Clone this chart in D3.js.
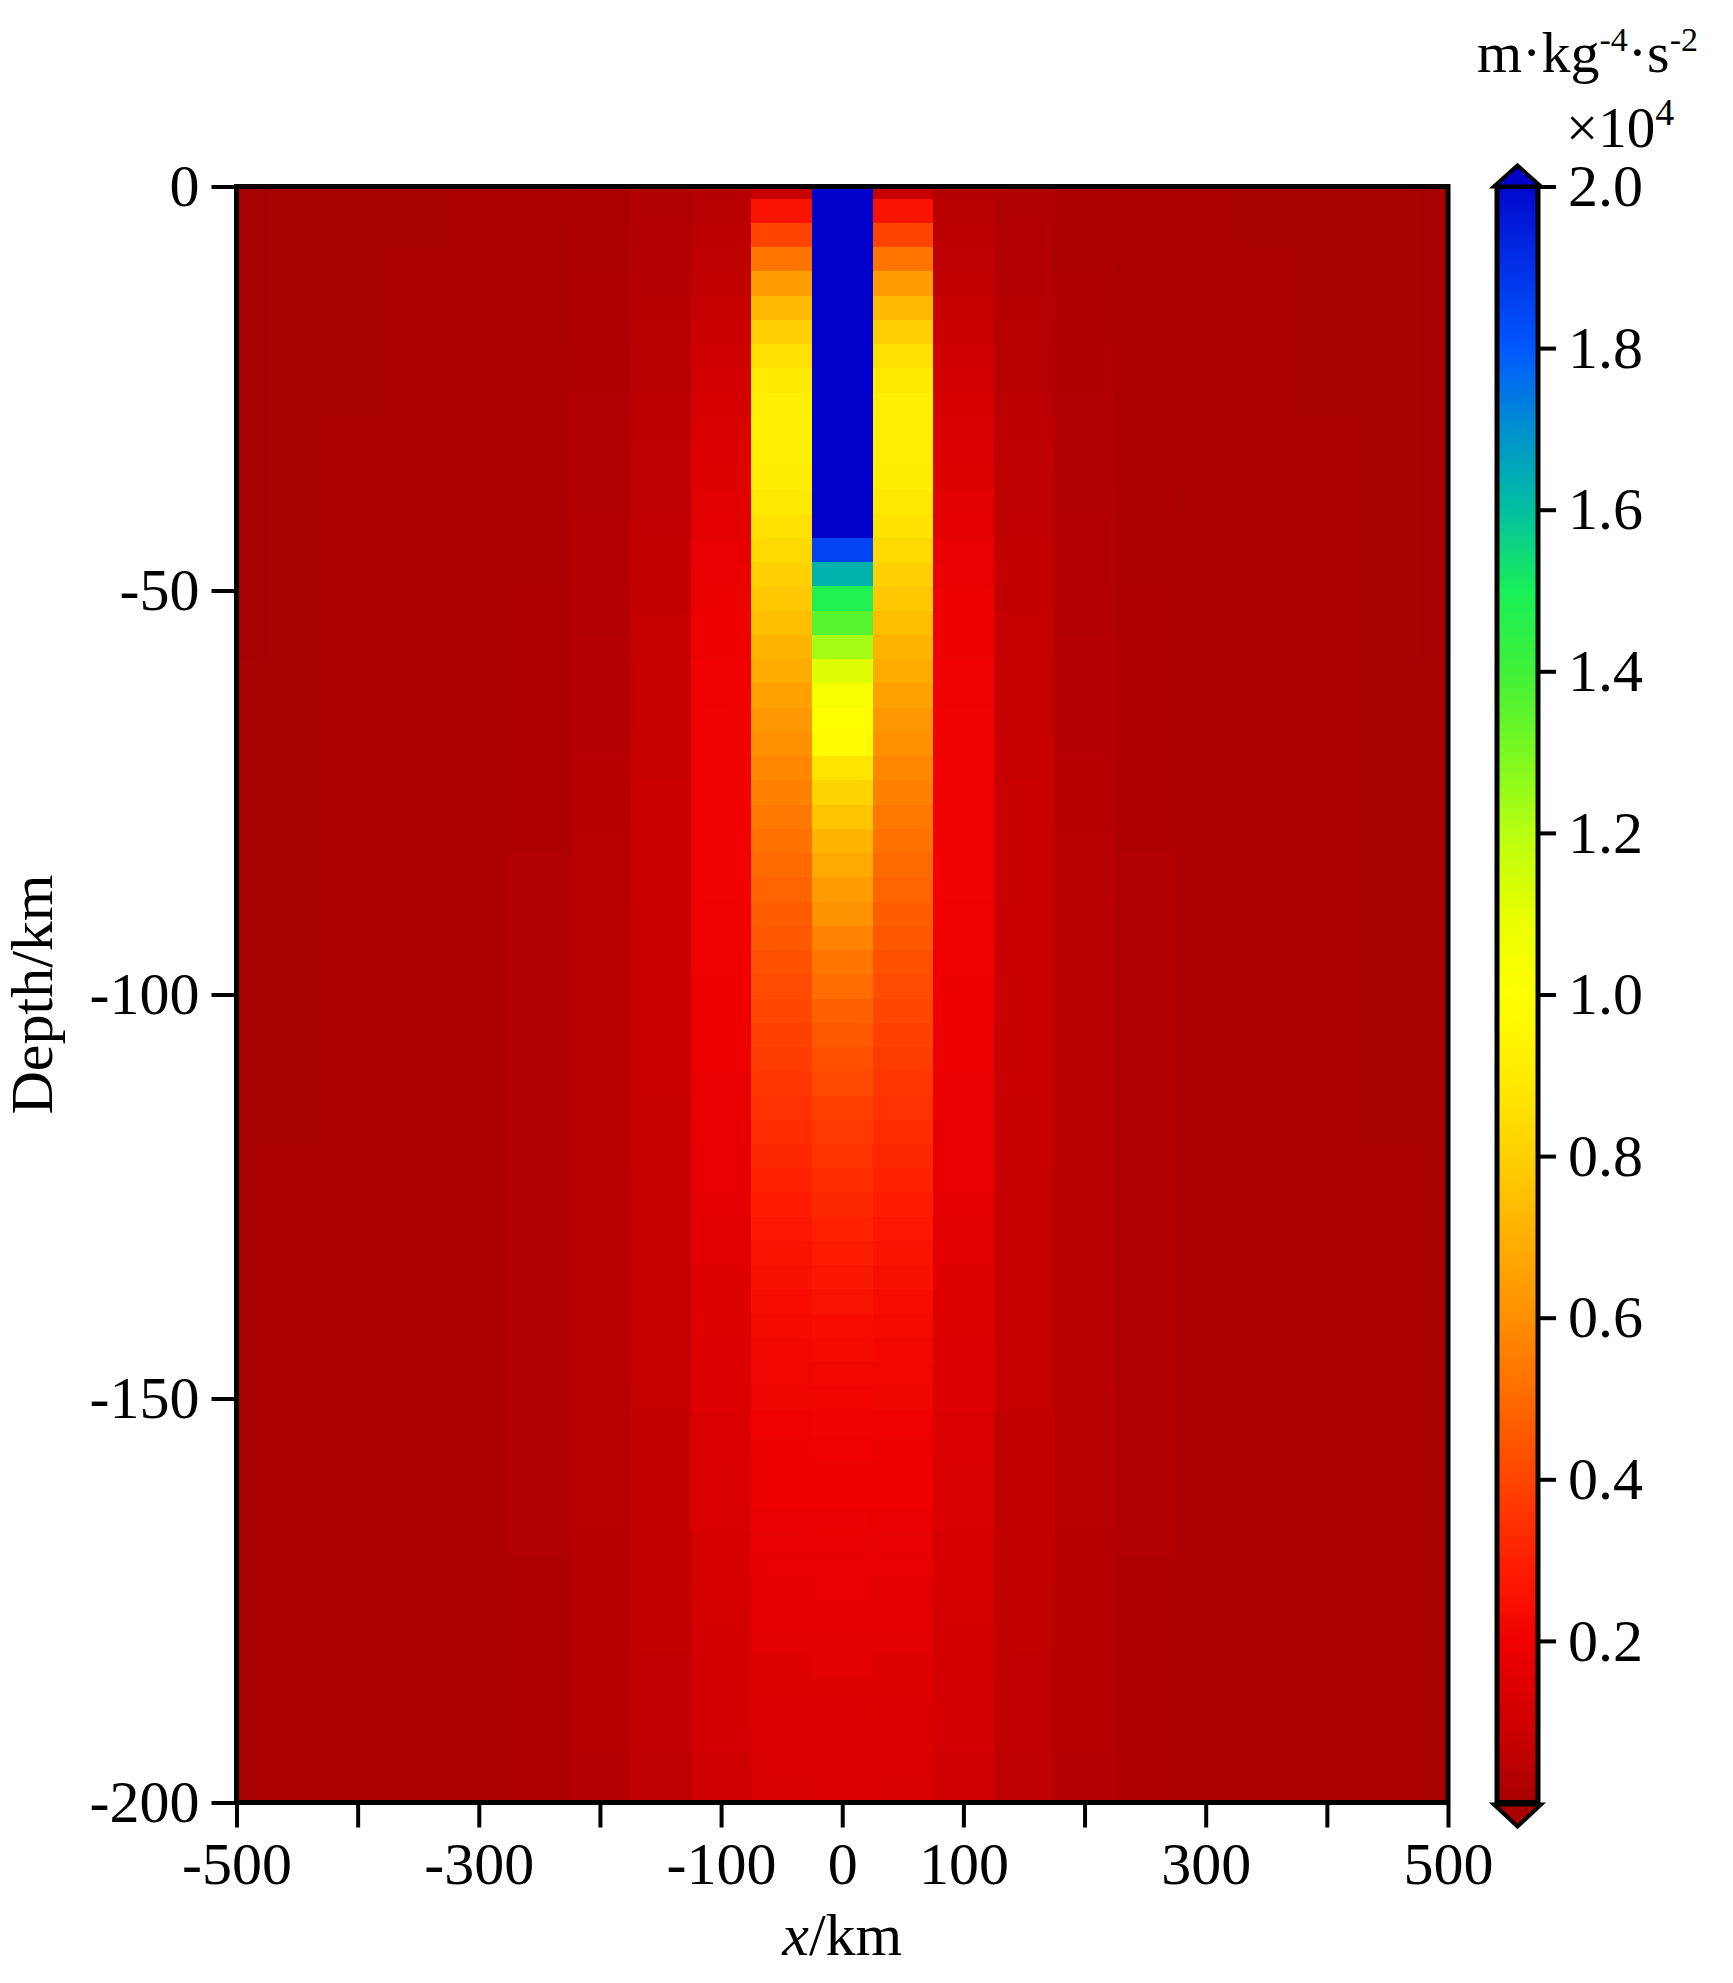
<!DOCTYPE html>
<html><head><meta charset="utf-8">
<script src="https://cdn.jsdelivr.net/npm/d3@7"></script>
<style>
html,body{margin:0;padding:0;background:#fff;}
svg{display:block;}
text{font-family:"Liberation Serif","Times New Roman",serif;fill:#000;}
</style></head><body>
<svg id="chart" width="1733" height="1983"></svg>
<script>
// ---------------- DATA ----------------
// depth of each grid row (km)
const depths = [0,-3,-6,-9,-12,-15,-18,-21,-24,-27,-30,-33,-36,-39,-42,-45,-48,-51,-54,-57,-60,-63,-66,-69,-72,-75,-78,-81,-84,-87,-90,-93,-96,-99,-102,-105,-108,-111,-114,-117,-120,-123,-126,-129,-132,-135,-138,-141,-144,-147,-150,-153,-156,-159,-162,-165,-168,-171,-174,-177,-180,-183,-186,-189,-192,-195,-198];
// grid columns (km); field is symmetric about x = 0
const xCenters = [-500,-450,-400,-350,-300,-250,-200,-150,-100,-50,0,50,100,150,200,250,300,350,400,450,500];
// values (x10^4) for |x| = 0, 50, 100 ... 500 km, one entry per depth row
const col0 = [2.6,2.6,2.55,2.5,2.45,2.4,2.35,2.3,2.3,2.25,
  2.2,2.15,2.1,2.07,2.03,1.85,1.63,1.48,1.36,1.23,
  1.12,1.02,1.0,0.98,0.87,0.815,0.765,0.715,0.675,0.64,
  0.605,0.565,0.535,0.505,0.475,0.455,0.43,0.41,0.39,0.37,
  0.355,0.335,0.32,0.30,0.285,0.27,0.255,0.24,0.23,0.22,
  0.21,0.205,0.2,0.195,0.19,0.185,0.18,0.175,0.17,0.165,
  0.16,0.155,0.15,0.145,0.14,0.135,0.13];
const col50 = [0.08,0.26,0.40,0.53,0.64,0.73,0.80,0.86,0.895,0.915,
  0.925,0.92,0.91,0.89,0.865,0.835,0.805,0.775,0.745,0.715,
  0.685,0.655,0.625,0.60,0.58,0.56,0.54,0.52,0.50,0.483,
  0.467,0.452,0.437,0.422,0.407,0.392,0.377,0.362,0.347,0.332,
  0.317,0.302,0.288,0.275,0.263,0.252,0.242,0.232,0.223,0.215,
  0.208,0.202,0.197,0.192,0.187,0.182,0.177,0.172,0.167,0.162,
  0.157,0.152,0.147,0.142,0.137,0.132,0.127];
const col100 = [0.03,0.04,0.048,0.055,0.063,0.072,0.085,0.097,0.108,0.118,
  0.128,0.138,0.148,0.158,0.167,0.176,0.183,0.189,0.194,0.198,
  0.201,0.203,0.205,0.206,0.207,0.207,0.207,0.206,0.205,0.204,
  0.203,0.202,0.2,0.198,0.195,0.192,0.188,0.184,0.18,0.176,
  0.172,0.168,0.164,0.16,0.156,0.152,0.149,0.146,0.143,0.14,
  0.137,0.134,0.131,0.128,0.126,0.124,0.122,0.12,0.118,0.116,
  0.114,0.112,0.11,0.108,0.106,0.104,0.102];
const col150 = [0.02,0.022,0.025,0.028,0.031,0.034,0.037,0.04,0.043,0.046,
  0.049,0.052,0.055,0.058,0.061,0.064,0.066,0.068,0.07,0.072,
  0.074,0.075,0.076,0.077,0.078,0.079,0.08,0.08,0.081,0.081,
  0.081,0.081,0.081,0.08,0.08,0.08,0.079,0.079,0.078,0.078,
  0.077,0.076,0.075,0.074,0.074,0.073,0.072,0.071,0.07,0.069,
  0.069,0.068,0.067,0.066,0.066,0.065,0.064,0.064,0.063,0.062,
  0.062,0.061,0.06,0.06,0.059,0.058,0.058];
const col200 = [0.01,0.011,0.012,0.013,0.014,0.015,0.016,0.017,0.018,0.019,
  0.02,0.021,0.022,0.023,0.024,0.025,0.026,0.027,0.028,0.029,
  0.03,0.031,0.032,0.033,0.034,0.035,0.036,0.037,0.038,0.038,
  0.039,0.039,0.04,0.04,0.04,0.041,0.041,0.041,0.041,0.041,
  0.041,0.041,0.041,0.04,0.04,0.04,0.04,0.039,0.039,0.039,
  0.038,0.038,0.038,0.037,0.037,0.037,0.036,0.036,0.036,0.035,
  0.035,0.035,0.034,0.034,0.034,0.033,0.033];
const col250 = [0.005,0.006,0.006,0.007,0.007,0.008,0.008,0.009,0.009,0.01,
  0.01,0.011,0.011,0.012,0.012,0.013,0.013,0.014,0.014,0.015,
  0.015,0.016,0.016,0.017,0.017,0.018,0.018,0.018,0.019,0.019,
  0.019,0.02,0.02,0.02,0.02,0.02,0.021,0.021,0.021,0.021,
  0.021,0.021,0.021,0.021,0.021,0.02,0.02,0.02,0.02,0.02,
  0.02,0.02,0.019,0.019,0.019,0.019,0.019,0.018,0.018,0.018,
  0.018,0.018,0.017,0.017,0.017,0.017,0.017];
const col300 = [0.004,0.004,0.005,0.005,0.005,0.006,0.006,0.006,0.007,0.007,
  0.007,0.008,0.008,0.008,0.009,0.009,0.009,0.01,0.01,0.01,
  0.01,0.011,0.011,0.011,0.011,0.012,0.012,0.012,0.012,0.012,
  0.013,0.013,0.013,0.013,0.013,0.013,0.013,0.013,0.013,0.013,
  0.013,0.013,0.013,0.013,0.013,0.013,0.013,0.013,0.013,0.013,
  0.013,0.013,0.012,0.012,0.012,0.012,0.012,0.012,0.012,0.012,
  0.012,0.012,0.012,0.011,0.011,0.011,0.011];
const col350 = [0.003,0.003,0.003,0.004,0.004,0.004,0.004,0.005,0.005,0.005,
  0.005,0.006,0.006,0.006,0.006,0.007,0.007,0.007,0.007,0.007,
  0.008,0.008,0.008,0.008,0.008,0.008,0.008,0.008,0.008,0.008,
  0.008,0.008,0.008,0.009,0.009,0.009,0.009,0.009,0.009,0.009,
  0.009,0.009,0.009,0.009,0.009,0.009,0.009,0.009,0.009,0.009,
  0.009,0.009,0.009,0.009,0.009,0.009,0.009,0.009,0.009,0.009,
  0.009,0.009,0.009,0.008,0.008,0.008,0.008];
const col400 = [0.002,0.002,0.002,0.002,0.003,0.003,0.003,0.003,0.003,0.003,
  0.004,0.004,0.004,0.004,0.004,0.004,0.004,0.004,0.004,0.004,
  0.004,0.004,0.005,0.005,0.005,0.005,0.005,0.005,0.005,0.005,
  0.005,0.005,0.005,0.005,0.005,0.005,0.005,0.005,0.005,0.005,
  0.006,0.006,0.006,0.006,0.006,0.006,0.006,0.006,0.006,0.006,
  0.006,0.006,0.006,0.006,0.006,0.006,0.006,0.006,0.006,0.006,
  0.006,0.006,0.006,0.006,0.006,0.006,0.006];
const col450 = [0.002,0.002,0.002,0.002,0.002,0.002,0.002,0.002,0.002,0.002,
  0.002,0.002,0.002,0.002,0.002,0.002,0.002,0.002,0.002,0.002,
  0.003,0.003,0.003,0.003,0.003,0.003,0.003,0.003,0.003,0.003,
  0.003,0.003,0.003,0.003,0.003,0.003,0.003,0.003,0.003,0.003,
  0.004,0.004,0.004,0.004,0.004,0.004,0.004,0.004,0.004,0.004,
  0.004,0.004,0.004,0.004,0.004,0.004,0.004,0.004,0.004,0.004,
  0.004,0.004,0.004,0.004,0.004,0.004,0.004];
const col500 = [0.001,0.001,0.001,0.001,0.001,0.001,0.001,0.001,0.001,0.001,
  0.001,0.001,0.001,0.001,0.001,0.001,0.001,0.001,0.001,0.001,
  0.002,0.002,0.002,0.002,0.002,0.002,0.002,0.002,0.002,0.002,
  0.002,0.002,0.002,0.002,0.002,0.002,0.002,0.002,0.002,0.002,
  0.003,0.003,0.003,0.003,0.003,0.003,0.003,0.003,0.003,0.003,
  0.003,0.003,0.003,0.003,0.003,0.003,0.003,0.003,0.003,0.003,
  0.003,0.003,0.003,0.003,0.003,0.003,0.003];
const columnsByAbsX = [col0,col50,col100,col150,col200,col250,col300,col350,col400,col450,col500];

const xTicks = [-500,-400,-300,-200,-100,0,100,200,300,400,500];
const xTickLabels = ["-500","-300","-100","0","100","300","500"];
const yTicks = [0,-50,-100,-150,-200];
const yTickLabels = ["0","-50","-100","-150","-200"];
const cbTicks = [0.2,0.4,0.6,0.8,1.0,1.2,1.4,1.6,1.8,2.0];
const cbTickLabels = ["0.2","0.4","0.6","0.8","1.0","1.2","1.4","1.6","1.8","2.0"];

// colormap
const cmapValues = [0,0.1,0.2,0.3,0.4,0.5,0.6,0.7,0.8,0.9,1.0,1.1,1.2,1.3,1.4,1.5,1.6,1.7,1.8,1.9,2.0];
const cmapColors = ["#a80000","#d00000","#f00000","#ff2000","#ff4400","#ff6a00","#ff9000","#ffb000","#ffd000","#ffec00","#ffff00","#e8ff00","#b8ff10","#78f820","#40f038","#18f058","#00c0a0","#0090d0","#0058ff","#0030e8","#0008cc"];
const overColor = "#0000cc";
const underColor = "#a80000";

// ---------------- LAYOUT ----------------
const FONT = '"Liberation Serif","Times New Roman",serif';
const L = 236.5, R = 1448, T = 186.5, B = 1802.5;
const svg = d3.select("#chart");
svg.append("rect").attr("width",1733).attr("height",1983).attr("fill","#fff");

const x = d3.scaleLinear().domain([-500,500]).range([L,R]);
const y = d3.scaleLinear().domain([0,-200]).range([T,B]);
const cScale = d3.scaleLinear().domain(cmapValues).range(cmapColors).interpolate(d3.interpolateRgb).clamp(true);
const color = v => v > 2 ? overColor : (v < 0 ? underColor : cScale(v));

// cells
const cells = [];
xCenters.forEach(xc => {
  const col = columnsByAbsX[Math.abs(xc)/50];
  depths.forEach((d,i) => {
    cells.push({
      x0: Math.max(-500, xc-25), x1: Math.min(500, xc+25),
      top: Math.min(0, d+1.5), bot: i === depths.length-1 ? -200 : d-1.5,
      v: col[i]
    });
  });
});
const defs = svg.append("defs");
defs.append("clipPath").attr("id","plotclip")
  .append("rect").attr("x",L).attr("y",T).attr("width",R-L).attr("height",B-T);
svg.append("g").attr("clip-path","url(#plotclip)").attr("shape-rendering","crispEdges")
  .selectAll("rect").data(cells).join("rect")
  .attr("x", d => x(d.x0)).attr("width", d => x(d.x1)-x(d.x0)+0.6)
  .attr("y", d => y(d.top)).attr("height", d => y(d.bot)-y(d.top)+0.6)
  .attr("fill", d => color(d.v));

// frame
svg.append("rect").attr("x",L).attr("y",T).attr("width",R-L).attr("height",B-T)
  .attr("fill","none").attr("stroke","#000").attr("stroke-width",5);

// axes
const xAxis = d3.axisBottom(x).tickValues(xTicks).tickSize(23).tickPadding(14)
  .tickFormat(v => xTickLabels.includes(String(v)) ? String(v) : "");
const gx = svg.append("g").attr("transform",`translate(0,${B+2})`).call(xAxis);
const yAxis = d3.axisLeft(y).tickValues(yTicks).tickSize(23).tickPadding(12)
  .tickFormat((v,i) => yTickLabels[i]);
const gy = svg.append("g").attr("transform",`translate(${L-2},0)`).call(yAxis);
[gx,gy].forEach(g => {
  g.select(".domain").remove();
  g.selectAll(".tick line").attr("stroke","#000").attr("stroke-width",4);
  g.selectAll(".tick text").attr("font-size",60).attr("font-family",FONT).attr("fill","#000");
});

// axis titles
const xt = svg.append("text").attr("x",(L+R)/2).attr("y",1955).attr("text-anchor","middle").attr("font-size",60);
xt.append("tspan").attr("font-style","italic").text("x");
xt.append("tspan").text("/km");
svg.append("text").attr("transform",`translate(52,${(T+B)/2}) rotate(-90)`).attr("text-anchor","middle")
  .attr("font-size",60).text("Depth/km");

// colorbar
const cbL = 1497, cbR = 1538;
const cb = d3.scaleLinear().domain([0,2]).range([B,T]);
const grad = defs.append("linearGradient").attr("id","cbgrad")
  .attr("x1",0).attr("y1",1).attr("x2",0).attr("y2",0);
d3.range(0,2.0001,0.05).forEach(v => {
  grad.append("stop").attr("offset",v/2).attr("stop-color",cScale(v));
});
svg.append("rect").attr("x",cbL).attr("y",cb(2)).attr("width",cbR-cbL).attr("height",cb(0)-cb(2))
  .attr("fill","url(#cbgrad)").attr("stroke","#000").attr("stroke-width",5);
const mid = (cbL+cbR)/2;
svg.append("path").attr("d",`M${cbL-3},${cb(2)} L${mid},${cb(2)-21} L${cbR+3},${cb(2)} Z`)
  .attr("fill",overColor).attr("stroke","#000").attr("stroke-width",4);
svg.append("path").attr("d",`M${cbL-3},${cb(0)+2} L${mid},${cb(0)+24} L${cbR+3},${cb(0)+2} Z`)
  .attr("fill",underColor).attr("stroke","#000").attr("stroke-width",4);
const cbAxis = d3.axisRight(cb).tickValues(cbTicks).tickSize(18).tickPadding(12)
  .tickFormat((v,i) => cbTickLabels[i]);
const gc = svg.append("g").attr("transform",`translate(${cbR},0)`).call(cbAxis);
gc.select(".domain").remove();
gc.selectAll(".tick line").attr("stroke","#000").attr("stroke-width",4);
gc.selectAll(".tick text").attr("font-size",60).attr("font-family",FONT).attr("fill","#000");

// units
const u = svg.append("text").attr("x",1477).attr("y",72).attr("font-size",58);
u.append("tspan").text("m·kg");
u.append("tspan").attr("font-size",34).attr("dy",-21).text("-4");
u.append("tspan").attr("font-size",58).attr("dy",21).text("·s");
u.append("tspan").attr("font-size",34).attr("dy",-21).text("-2");
const m = svg.append("text").attr("x",1566).attr("y",147).attr("font-size",57);
m.append("tspan").text("×10");
m.append("tspan").attr("font-size",38).attr("dy",-22).text("4");
</script>
</body></html>
